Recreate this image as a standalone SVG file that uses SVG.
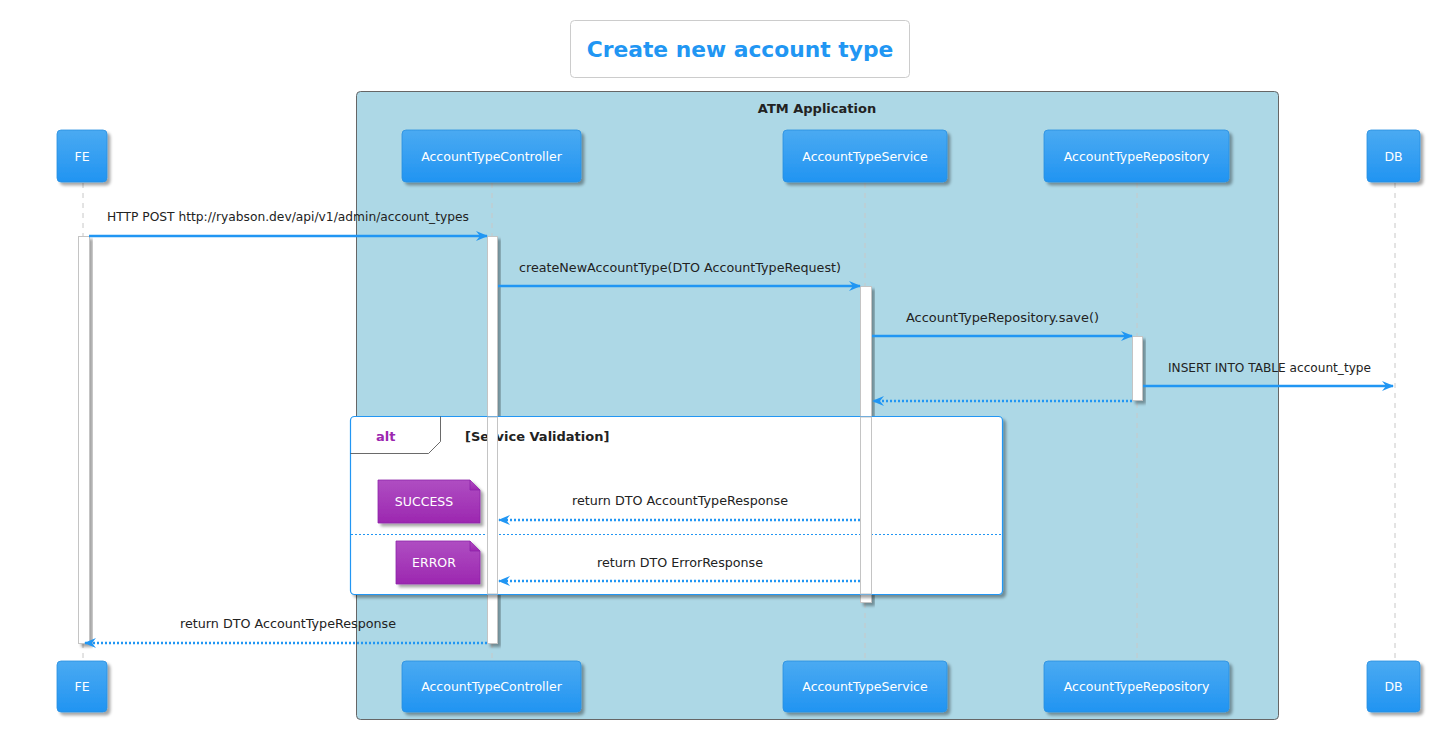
<svg xmlns="http://www.w3.org/2000/svg" width="1437" height="730" viewBox="0 0 1437 730">
<defs>
<linearGradient id="gBlue" x1="0" y1="0" x2="0" y2="1">
<stop offset="0" stop-color="#4AAAF2"/>
<stop offset="1" stop-color="#2194F2"/>
</linearGradient>
<linearGradient id="gPurple" x1="0" y1="0" x2="0" y2="1">
<stop offset="0" stop-color="#AF4EC2"/>
<stop offset="1" stop-color="#9C27B0"/>
</linearGradient>
<filter id="sh" x="-20%" y="-20%" width="150%" height="150%">
<feDropShadow dx="3" dy="3" stdDeviation="1.6" flood-color="#000" flood-opacity="0.35"/>
</filter>
<marker id="arr" viewBox="0 0 12 10" refX="11" refY="5" markerWidth="12" markerHeight="10" markerUnits="userSpaceOnUse" orient="auto">
<polygon points="0,0 12,5 0,10 4,5" fill="#2196F3"/>
</marker>
<style>
text{font-family:"DejaVu Sans","Noto Sans",sans-serif}
.part rect{fill:url(#gBlue);stroke:#2A8FE0;stroke-width:0.8}
.part text{fill:#fff;font-size:12.5px;text-anchor:middle}
.life{stroke:#c8c8c8;stroke-width:1;stroke-dasharray:5,5}
.act{fill:#fff;stroke:#c4c4c4;stroke-width:1}
.msg{stroke:#2196F3;stroke-width:2.6;fill:none}
.ret{stroke:#2196F3;stroke-width:2.6;fill:none;stroke-dasharray:2,2}
.lbl{font-size:12.5px;fill:#222}
.note path{fill:url(#gPurple);stroke:#8E24AA;stroke-width:0.8}
.note text{fill:#fff;font-size:12.5px;text-anchor:middle}
</style>
</defs>
<rect width="1437" height="730" fill="#fff"/>

<g id="title">
<rect x="570.5" y="20.5" width="339" height="57" rx="4" fill="#fff" stroke="#cccccc"/>
<text x="740" y="57" font-size="21.8" font-weight="bold" fill="#2196F3" text-anchor="middle">Create new account type</text>
</g>

<g id="box-atm">
<rect x="356.5" y="91.5" width="922" height="628" rx="4" fill="#ADD8E6" stroke="#666" stroke-width="1"/>
<text x="817" y="113" font-size="13" font-weight="bold" fill="#222" text-anchor="middle">ATM Application</text>
</g>

<g id="lifelines">
<line class="life" x1="83" y1="183" x2="83" y2="661"/>
<line class="life" x1="492" y1="183" x2="492" y2="661"/>
<line class="life" x1="865" y1="183" x2="865" y2="661"/>
<line class="life" x1="1137" y1="183" x2="1137" y2="661"/>
<line class="life" x1="1395" y1="183" x2="1395" y2="661"/>
</g>

<g id="p-fe" class="part"><rect x="57" y="130" width="50" height="52" rx="4" filter="url(#sh)"/><text x="82" y="161">FE</text></g>
<g id="p-ctrl" class="part"><rect x="402" y="130" width="179" height="52" rx="4" filter="url(#sh)"/><text x="491.5" y="161">AccountTypeController</text></g>
<g id="p-svc" class="part"><rect x="783" y="130" width="164" height="52" rx="4" filter="url(#sh)"/><text x="865" y="161">AccountTypeService</text></g>
<g id="p-repo" class="part"><rect x="1044" y="130" width="185" height="52" rx="4" filter="url(#sh)"/><text x="1136.5" y="161">AccountTypeRepository</text></g>
<g id="p-db" class="part"><rect x="1367" y="130" width="53" height="52" rx="4" filter="url(#sh)"/><text x="1393.5" y="161">DB</text></g>

<g id="p-fe-bottom" class="part"><rect x="57" y="661" width="50" height="51" rx="4" filter="url(#sh)"/><text x="82" y="691">FE</text></g>
<g id="p-ctrl-bottom" class="part"><rect x="402" y="661" width="179" height="51" rx="4" filter="url(#sh)"/><text x="491.5" y="691">AccountTypeController</text></g>
<g id="p-svc-bottom" class="part"><rect x="783" y="661" width="164" height="51" rx="4" filter="url(#sh)"/><text x="865" y="691">AccountTypeService</text></g>
<g id="p-repo-bottom" class="part"><rect x="1044" y="661" width="185" height="51" rx="4" filter="url(#sh)"/><text x="1136.5" y="691">AccountTypeRepository</text></g>
<g id="p-db-bottom" class="part"><rect x="1367" y="661" width="53" height="51" rx="4" filter="url(#sh)"/><text x="1393.5" y="691">DB</text></g>

<g id="activations">
<rect class="act" x="78.5" y="236.5" width="11" height="407" filter="url(#sh)"/>
<rect class="act" x="487.5" y="236.5" width="10" height="407" filter="url(#sh)"/>
<rect class="act" x="860.5" y="286.5" width="11" height="316" filter="url(#sh)"/>
<rect class="act" x="1132.5" y="336.5" width="10" height="64" filter="url(#sh)"/>
</g>

<g id="alt-frame">
<rect x="350.5" y="416.5" width="652" height="178" rx="4" fill="#fff" stroke="#2196F3" stroke-width="1.2" filter="url(#sh)"/>
<path d="M350.5,453.5 H428.5 L440.5,441.5 V416.5" fill="none" stroke="#444" stroke-width="0.8"/>
<text x="376" y="441" font-size="13" font-weight="bold" fill="#9C27B0">alt</text>
<text x="465" y="441" font-size="13" font-weight="bold" fill="#222">[Service Validation]</text>
<line x1="351" y1="534.5" x2="1002" y2="534.5" stroke="#2196F3" stroke-width="1" stroke-dasharray="2,2"/>
</g>

<g id="activation-overlay">
<rect class="act" x="487.5" y="417" width="10" height="177"/>
<rect class="act" x="860.5" y="417" width="11" height="177"/>
</g>

<g id="note-success" class="note">
<path d="M378,480 H470 L480,490 V523 H378 Z" filter="url(#sh)"/>
<path d="M470,480 V490 H480" fill="none"/>
<text x="424" y="506">SUCCESS</text>
</g>
<g id="note-error" class="note">
<path d="M396,541 H470 L480,551 V584 H396 Z" filter="url(#sh)"/>
<path d="M470,541 V551 H480" fill="none"/>
<text x="434" y="567">ERROR</text>
</g>

<g id="connectors">
<line class="msg" x1="89" y1="236" x2="487" y2="236" marker-end="url(#arr)"/>
<line class="msg" x1="498" y1="286" x2="860" y2="286" marker-end="url(#arr)"/>
<line class="msg" x1="872" y1="336" x2="1132" y2="336" marker-end="url(#arr)"/>
<line class="msg" x1="1143" y1="386" x2="1393" y2="386" marker-end="url(#arr)"/>
<line class="ret" x1="1132" y1="401" x2="873" y2="401" marker-end="url(#arr)"/>
<line class="ret" x1="860" y1="520" x2="499" y2="520" marker-end="url(#arr)"/>
<line class="ret" x1="860" y1="581" x2="499" y2="581" marker-end="url(#arr)"/>
<line class="ret" x1="487" y1="643" x2="85" y2="643" marker-end="url(#arr)"/>
</g>

<g id="labels">
<text class="lbl" x="107" y="221" textLength="362" lengthAdjust="spacingAndGlyphs">HTTP POST http://ryabson.dev/api/v1/admin/account_types</text>
<text class="lbl" x="519" y="272" textLength="322" lengthAdjust="spacingAndGlyphs">createNewAccountType(DTO AccountTypeRequest)</text>
<text class="lbl" x="906" y="322" textLength="193" lengthAdjust="spacingAndGlyphs">AccountTypeRepository.save()</text>
<text class="lbl" x="1168" y="372" textLength="203" lengthAdjust="spacingAndGlyphs">INSERT INTO TABLE account_type</text>
<text class="lbl" x="572" y="505" textLength="216" lengthAdjust="spacingAndGlyphs">return DTO AccountTypeResponse</text>
<text class="lbl" x="597" y="567" textLength="166" lengthAdjust="spacingAndGlyphs">return DTO ErrorResponse</text>
<text class="lbl" x="180" y="628" textLength="216" lengthAdjust="spacingAndGlyphs">return DTO AccountTypeResponse</text>
</g>
</svg>
